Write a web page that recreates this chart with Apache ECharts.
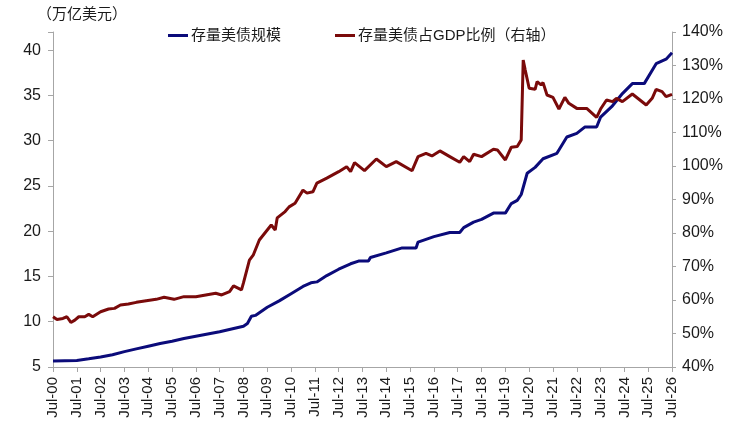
<!DOCTYPE html>
<html>
<head>
<meta charset="utf-8">
<script src="https://cdn.jsdelivr.net/npm/echarts@6/dist/echarts.min.js"></script>
<style>
html,body{margin:0;padding:0;background:#fff;}
#c{width:737px;height:437px;}
</style>
</head>
<body>
<div id="c"></div>
<script>
// Debt stock (trillion USD), left axis
const debtDates = ['2000-07','2001-01','2001-07','2002-01','2002-07','2003-01','2003-07','2004-01','2004-07','2005-01','2005-07','2006-01','2006-07','2007-01','2007-07','2008-01','2008-07','2008-09','2008-11','2009-01','2009-07','2010-01','2010-07','2011-01','2011-05','2011-08','2012-01','2012-07','2013-01','2013-05','2013-10','2013-11','2014-07','2015-03','2015-10','2015-11','2016-07','2017-03','2017-08','2017-10','2018-03','2018-07','2019-01','2019-07','2019-10','2020-01','2020-03','2020-06','2020-10','2021-02','2021-09','2022-02','2022-07','2022-11','2023-05','2023-07','2024-01','2024-06','2024-11','2025-05','2025-11','2026-04','2026-07'];
const debtValues = [5.66,5.7,5.72,5.9,6.1,6.35,6.7,7.0,7.3,7.6,7.85,8.15,8.4,8.65,8.9,9.2,9.5,9.8,10.6,10.7,11.6,12.3,13.1,13.9,14.3,14.4,15.1,15.8,16.4,16.7,16.7,17.1,17.6,18.15,18.15,18.8,19.4,19.85,19.85,20.4,21.0,21.3,22.0,22.0,23.05,23.4,24.05,26.4,27.05,28.0,28.6,30.4,30.8,31.5,31.5,32.6,33.85,35.2,36.3,36.3,38.5,39.0,39.7];

// Debt / GDP (%), right axis
const ratioDates = ['2000-07','2000-09','2000-12','2001-02','2001-04','2001-06','2001-08','2001-11','2002-01','2002-03','2002-07','2002-11','2003-02','2003-05','2003-09','2004-01','2004-06','2004-11','2005-03','2005-08','2006-01','2006-07','2006-12','2007-05','2007-08','2007-12','2008-02','2008-06','2008-07','2008-10','2008-12','2009-01','2009-03','2009-07','2009-09','2009-11','2009-12','2010-04','2010-06','2010-09','2011-01','2011-03','2011-06','2011-08','2012-01','2012-02','2012-07','2012-11','2013-01','2013-03','2013-08','2014-02','2014-07','2014-12','2015-08','2015-11','2016-03','2016-06','2016-10','2017-03','2017-08','2017-10','2018-01','2018-03','2018-07','2019-01','2019-03','2019-07','2019-10','2020-01','2020-03','2020-04','2020-05','2020-07','2020-10','2020-11','2021-01','2021-02','2021-04','2021-07','2021-10','2022-01','2022-03','2022-07','2022-12','2023-05','2023-07','2023-10','2024-01','2024-03','2024-06','2024-11','2025-06','2025-09','2025-11','2026-02','2026-04','2026-07'];
const ratioValues = [55.0,54.2,54.5,55.0,53.3,54.0,55.0,55.0,55.7,55.0,56.5,57.3,57.5,58.5,58.8,59.3,59.8,60.2,60.8,60.2,61.0,61.0,61.5,62.0,61.5,62.5,64.2,63.0,65.1,71.9,73.5,74.0,77.9,80.9,82.4,80.9,84.5,86.4,87.8,88.9,92.8,91.9,92.3,94.9,96.4,96.8,98.3,99.8,98.3,101.0,98.6,102.1,99.8,101.3,98.6,102.8,103.8,103.0,104.5,102.8,101.1,102.8,101.3,103.5,102.8,105.0,104.8,101.8,105.6,105.8,107.8,131.6,128.7,123.2,122.9,125.2,124.2,124.9,121.2,120.5,117.0,120.5,118.7,117.2,117.2,114.5,117.0,119.7,119.2,120.2,119.2,121.5,118.2,120.2,122.9,122.2,120.7,121.4];

const seriesNames = ['存量美债规模','存量美债占GDP比例（右轴）'];
const leftTitle = '（万亿美元）';

function monthIdx(s){ const [y,m]=s.split('-').map(Number); return (y-2000)*12 + (m-7); }
const debtData = debtDates.map((d,i)=>[monthIdx(d), debtValues[i]]);
const ratioData = ratioDates.map((d,i)=>[monthIdx(d), ratioValues[i]]);

const FONT = "'Liberation Sans', Arial, 'Noto Sans CJK SC', sans-serif";
const AX = '#a6a6a6';
const TXT = '#1a1a1a';

const chart = echarts.init(document.getElementById('c'));
chart.setOption({
  animation:false,
  backgroundColor:'#fff',
  textStyle:{fontFamily:FONT},
  graphic:[{type:'text', left:37, top:6, style:{text:leftTitle, fontSize:15, fill:TXT, fontFamily:"'Noto Sans CJK SC', sans-serif"}}],
  legend:{
    left:163, top:23, itemGap:54, itemWidth:20, itemHeight:3, icon:'rect',
    textStyle:{fontSize:15, color:TXT, fontFamily:FONT, padding:[0,0,0,-2]},
    data:seriesNames
  },
  grid:{left:53, right:65, top:32, bottom:70, containLabel:false},
  xAxis:{
    type:'value', min:0, max:312, interval:12,
    axisLine:{show:true, lineStyle:{color:AX, width:1}},
    axisTick:{show:true, length:5, lineStyle:{color:AX}},
    splitLine:{show:false},
    axisLabel:{rotate:90, margin:10, fontSize:15, color:TXT, fontFamily:FONT,
      formatter:v=>'Jul-'+String((v/12)%100).padStart(2,'0')}
  },
  yAxis:[{
    type:'value', min:5, max:42, interval:5, position:'left',
    axisLine:{show:true, lineStyle:{color:AX}},
    axisTick:{show:true, length:5, lineStyle:{color:AX}},
    splitLine:{show:false},
    axisLabel:{fontSize:16, color:TXT, margin:12, fontFamily:FONT, formatter:v=> (v%5===0? String(v):'')}
  },{
    type:'value', min:40, max:140, interval:10, position:'right',
    axisLine:{show:true, lineStyle:{color:AX}},
    axisTick:{show:true, length:4, lineStyle:{color:AX}},
    splitLine:{show:false},
    axisLabel:{fontSize:16, color:TXT, margin:10, fontFamily:FONT, formatter:v=>v+'%'}
  }],
  series:[{
    name:seriesNames[0], type:'line', yAxisIndex:0, data:debtData, symbol:'none',
    lineStyle:{color:'#0b0b7a', width:3}, itemStyle:{color:'#0b0b7a'}
  },{
    name:seriesNames[1], type:'line', yAxisIndex:1, data:ratioData, symbol:'none',
    lineStyle:{color:'#7a0a0a', width:3}, itemStyle:{color:'#7a0a0a'}
  }]
});
</script>
</body>
</html>
